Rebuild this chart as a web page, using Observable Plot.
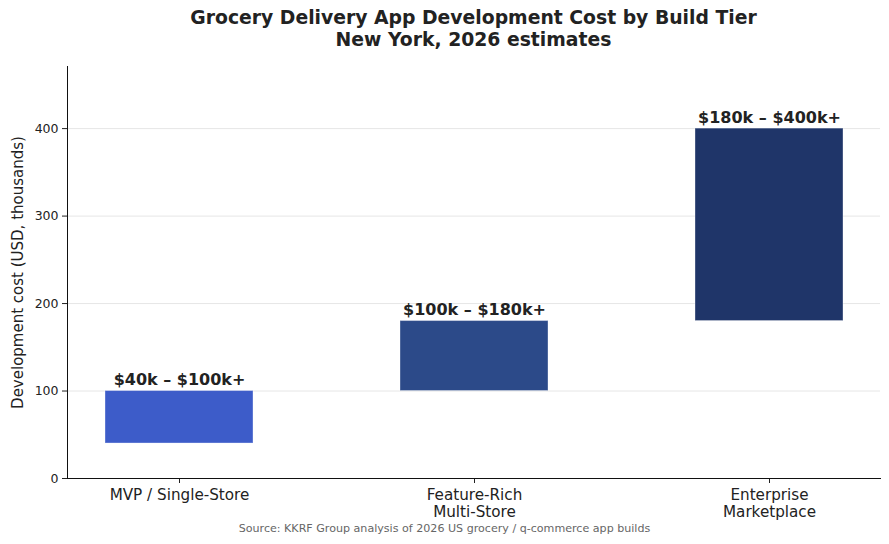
<!DOCTYPE html>
<html>
<head>
<meta charset="utf-8">
<script src="https://cdn.jsdelivr.net/npm/d3@7"></script>
<script src="https://cdn.jsdelivr.net/npm/@observablehq/plot@0.6"></script>
<style>
  html, body { margin: 0; padding: 0; background: #fff; }
  #wrap { position: relative; width: 889px; height: 544px; font-family: "DejaVu Sans", sans-serif; }
  #title { position: absolute; left: 67px; width: 813px; top: 7px; text-align: center;
           font-weight: bold; font-size: 18.8px; line-height: 22px; color: #222; }
  #chart { position: absolute; left: 0; top: 0; }
  #source { position: absolute; left: 0; width: 889px; top: 522px; text-align: center;
            font-size: 11.1px; color: #666; }
</style>
</head>
<body>
<div id="wrap">
  <div id="chart"></div>
  <div id="title">Grocery Delivery App Development Cost by Build Tier<br>New York, 2026 estimates</div>
  <div id="source">Source: KKRF Group analysis of 2026 US grocery / q-commerce app builds</div>
</div>
<script>
// Build tiers and their estimated cost ranges (USD, thousands)
const tiers = ["MVP / Single-Store", "Feature-Rich\nMulti-Store", "Enterprise\nMarketplace"];
const costLow = [40, 100, 180];
const costHigh = [100, 180, 400];
const rangeLabels = ["$40k – $100k+", "$100k – $180k+", "$180k – $400k+"];
const tierColors = ["#3d5cc9", "#2c4a89", "#1f3569"];
const yTicks = [0, 100, 200, 300, 400];

const rows = tiers.map((tier, i) => ({
  tier, low: costLow[i], high: costHigh[i], label: rangeLabels[i], color: tierColors[i]
}));

const chart = Plot.plot({
  width: 889,
  height: 544,
  marginLeft: 67,
  marginRight: 9,
  marginTop: 66,
  marginBottom: 66,
  style: { fontFamily: "DejaVu Sans, sans-serif", background: "white", overflow: "visible" },
  x: { domain: tiers, paddingInner: 0.5, paddingOuter: 0.125, label: null },
  y: { domain: [0, 471], ticks: yTicks, label: null },
  marks: [
    Plot.gridY(yTicks.filter(d => d > 0), { stroke: "#e6e6e6", strokeOpacity: 1, strokeWidth: 1 }),
    Plot.barY(rows, {
      x: "tier", y1: "low", y2: "high", fill: "color",
      stroke: "white", strokeOpacity: 0.35, strokeWidth: 1
    }),
    Plot.text(rows, {
      x: "tier", y: "high", text: "label", lineAnchor: "bottom", dy: -6,
      fontWeight: "bold", fontSize: 16, fill: "#222"
    }),
    Plot.axisY({
      ticks: yTicks, tickSize: 5, tickPadding: 4, fontSize: 12.5, color: "#222",
      label: "Development cost (USD, thousands)", labelAnchor: "center", labelArrow: "none",
      labelOffset: 55
    }),
    Plot.axisX({ tickSize: 5, tickPadding: 5, fontSize: 15.2, color: "#222", lineHeight: 1.1 }),
    Plot.frame({ anchor: "left", stroke: "#111" }),
    Plot.frame({ anchor: "bottom", stroke: "#111" })
  ]
});

document.getElementById("chart").appendChild(chart);
// Axis title slightly larger than the tick labels
d3.select(chart).selectAll("[aria-label='y-axis label'] text").attr("font-size", 15);
</script>
</body>
</html>
